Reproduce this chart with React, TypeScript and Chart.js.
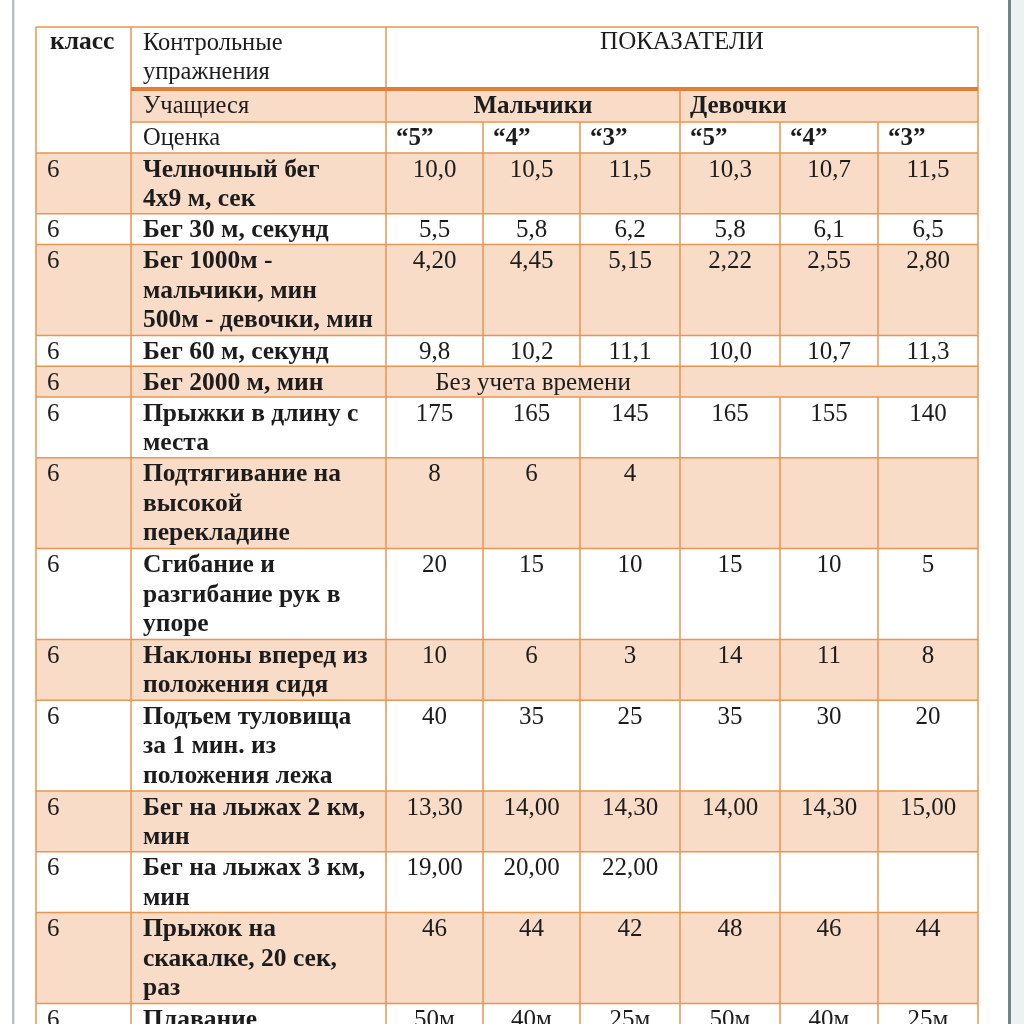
import React, { useEffect, useRef } from "react";
import { Chart, registerables } from "chart.js";

Chart.register(...registerables);

// ---------------- DATA ----------------
const headerClass = "класс";
const headerExercise = ["Контрольные", "упражнения"];
const headerIndicators = "ПОКАЗАТЕЛИ";
const headerStudents = "Учащиеся";
const headerGrade = "Оценка";
const groupLabels = ["Мальчики", "Девочки"];
const gradeLabels = ["“5”", "“4”", "“3”", "“5”", "“4”", "“3”"];

const classes = ["6", "6", "6", "6", "6", "6", "6", "6", "6", "6", "6", "6", "6", "6"];

const exercises: string[][] = [
  ["Челночный бег", "4х9 м, сек"],
  ["Бег 30 м, секунд"],
  ["Бег 1000м -", "мальчики, мин", "500м - девочки, мин"],
  ["Бег 60 м, секунд"],
  ["Бег 2000 м, мин"],
  ["Прыжки в длину с", "места"],
  ["Подтягивание на", "высокой", "перекладине"],
  ["Сгибание и", "разгибание рук в", "упоре"],
  ["Наклоны вперед из", "положения сидя"],
  ["Подъем туловища", "за 1 мин. из", "положения лежа"],
  ["Бег на лыжах 2 км,", "мин"],
  ["Бег на лыжах 3 км,", "мин"],
  ["Прыжок на", "скакалке, 20 сек,", "раз"],
  ["Плавание"],
];

const boys5 = ["10,0", "5,5", "4,20", "9,8", "", "175", "8", "20", "10", "40", "13,30", "19,00", "46", "50м"];
const boys4 = ["10,5", "5,8", "4,45", "10,2", "", "165", "6", "15", "6", "35", "14,00", "20,00", "44", "40м"];
const boys3 = ["11,5", "6,2", "5,15", "11,1", "", "145", "4", "10", "3", "25", "14,30", "22,00", "42", "25м"];
const girls5 = ["10,3", "5,8", "2,22", "10,0", "", "165", "", "15", "14", "35", "14,00", "", "48", "50м"];
const girls4 = ["10,7", "6,1", "2,55", "10,7", "", "155", "", "10", "11", "30", "14,30", "", "46", "40м"];
const girls3 = ["11,5", "6,5", "2,80", "11,3", "", "140", "", "5", "8", "20", "15,00", "", "44", "25м"];
const notes = ["", "", "", "", "Без учета времени", "", "", "", "", "", "", "", "", ""];

// ---------------- LAYOUT / STYLE ----------------
const colEdges = [36, 131, 386, 483, 580, 680, 780, 878, 978];
const headerEdges = [27, 89, 122, 153];
const lineStep = 30;
const textStep = 29.5;
const baseOff = 23.5;
const rowPad = 0.8;
const BORDER = "#E8954F";
const THICK = "#E27C36";
const SHADE = "#F9DCC8";
const TEXT = "#1c1c1c";
const FONT = "'Liberation Serif', 'Times New Roman', serif";
const SIZE_B = 25.5;
const SIZE_R = 25;

const tablePlugin = {
  id: "tablePlugin",
  afterDraw(chart: any) {
    const ctx = chart.ctx as CanvasRenderingContext2D;
    const xs = chart.scales.x;
    const ys = chart.scales.y;
    const X = (v: number) => xs.getPixelForValue(v);
    const Y = (v: number) => ys.getPixelForValue(v);

    const rowEdges: number[] = [headerEdges[3]];
    exercises.forEach((lines) => {
      const prev = rowEdges[rowEdges.length - 1];
      rowEdges.push(prev + Math.max(1, lines.length) * lineStep + rowPad);
    });
    const bottom = rowEdges[rowEdges.length - 1];
    const tableBottom = Math.max(bottom, 1060);

    ctx.save();
    ctx.fillStyle = "#ffffff";
    ctx.fillRect(X(0), Y(0), X(1024) - X(0), Y(1024) - Y(0));
    ctx.fillStyle = "#b4c0cb";
    ctx.fillRect(X(12), Y(0), X(14) - X(12), Y(1024) - Y(0));
    ctx.fillStyle = "#dfe5ea";
    ctx.fillRect(X(14), Y(0), X(15) - X(14), Y(1024) - Y(0));
    ctx.fillStyle = "#eef1f2";
    ctx.fillRect(X(1011), Y(0), X(1024) - X(1011), Y(1024) - Y(0));
    ctx.fillStyle = "#6f8588";
    ctx.fillRect(X(1008), Y(0), X(1011) - X(1008), Y(1024) - Y(0));

    ctx.fillStyle = SHADE;
    ctx.fillRect(X(colEdges[1]), Y(headerEdges[1]), X(colEdges[8]) - X(colEdges[1]), Y(headerEdges[2]) - Y(headerEdges[1]));
    exercises.forEach((_, i) => {
      if (i % 2 === 0) {
        ctx.fillRect(X(colEdges[0]), Y(rowEdges[i]), X(colEdges[8]) - X(colEdges[0]), Y(rowEdges[i + 1]) - Y(rowEdges[i]));
      }
    });

    const hLine = (x1: number, x2: number, y: number, color = BORDER, w = 1.5) => {
      ctx.strokeStyle = color;
      ctx.lineWidth = w;
      ctx.beginPath();
      ctx.moveTo(X(x1), Y(y));
      ctx.lineTo(X(x2), Y(y));
      ctx.stroke();
    };
    const vLine = (x: number, y1: number, y2: number) => {
      ctx.strokeStyle = BORDER;
      ctx.lineWidth = 1.5;
      ctx.beginPath();
      ctx.moveTo(X(x), Y(y1));
      ctx.lineTo(X(x), Y(y2));
      ctx.stroke();
    };
    const L = colEdges[0];
    const R = colEdges[8];
    hLine(L, R, headerEdges[0]);
    vLine(L, headerEdges[0], tableBottom);
    vLine(R, headerEdges[0], tableBottom);
    vLine(colEdges[1], headerEdges[0], tableBottom);
    vLine(colEdges[2], headerEdges[0], tableBottom);
    hLine(colEdges[1], R, headerEdges[2]);
    hLine(L, R, headerEdges[3]);
    vLine(colEdges[5], headerEdges[1], headerEdges[2]);
    for (let c = 3; c <= 7; c++) vLine(colEdges[c], headerEdges[2], headerEdges[3]);
    exercises.forEach((_, i) => {
      const top = rowEdges[i];
      const bot = i === exercises.length - 1 ? tableBottom : rowEdges[i + 1];
      if (notes[i]) {
        vLine(colEdges[5], top, bot);
      } else {
        for (let c = 3; c <= 7; c++) vLine(colEdges[c], top, bot);
      }
      hLine(L, R, rowEdges[i + 1]);
    });
    hLine(colEdges[1], R, headerEdges[1], THICK, 4);

    ctx.fillStyle = TEXT;
    ctx.textBaseline = "alphabetic";
    const txt = (s: string, x: number, y: number, bold: boolean, align: CanvasTextAlign = "left", size?: number) => {
      const sz = size ?? (bold ? SIZE_B : SIZE_R);
      ctx.font = `${bold ? "bold " : ""}${sz}px ${FONT}`;
      ctx.textAlign = align;
      ctx.fillText(s, X(x), Y(y));
    };
    txt(headerClass, colEdges[0] + 14, headerEdges[0] + 22, true, "left", 25.5);
    headerExercise.forEach((s, k) => txt(s, colEdges[1] + 12, headerEdges[0] + 23 + k * 29, false, "left", 24.5));
    txt(headerIndicators, (colEdges[2] + colEdges[8]) / 2, headerEdges[0] + 22, false, "center", 25);
    txt(headerStudents, colEdges[1] + 12, headerEdges[1] + 24, false, "left", 24.5);
    txt(groupLabels[0], (colEdges[2] + colEdges[5]) / 2, headerEdges[1] + 24, true, "center", 25);
    txt(groupLabels[1], colEdges[5] + 10, headerEdges[1] + 24, true, "left", 25);
    txt(headerGrade, colEdges[1] + 12, headerEdges[2] + 23, false, "left", 24.5);
    gradeLabels.forEach((s, c) => txt(s, colEdges[2 + c] + 10, headerEdges[2] + 23, true, "left", 25));

    const cols = [boys5, boys4, boys3, girls5, girls4, girls3];
    exercises.forEach((lines, i) => {
      const top = rowEdges[i];
      txt(classes[i], colEdges[0] + 11, top + baseOff, false);
      lines.forEach((s, k) => txt(s, colEdges[1] + 12, top + baseOff + k * textStep, true));
      if (notes[i]) {
        txt(notes[i], (colEdges[2] + colEdges[5]) / 2, top + baseOff, false, "center");
      } else {
        cols.forEach((arr, c) => {
          if (arr[i]) txt(arr[i], (colEdges[2 + c] + colEdges[3 + c]) / 2, top + baseOff, false, "center");
        });
      }
    });
    ctx.restore();
  },
};

export default function App() {
  const ref = useRef<HTMLCanvasElement | null>(null);
  useEffect(() => {
    if (!ref.current) return;
    const chart = new Chart(ref.current, {
      type: "scatter",
      data: { datasets: [{ data: [], showLine: false }] },
      options: {
        animation: false,
        responsive: false,
        maintainAspectRatio: false,
        devicePixelRatio: 1,
        layout: { padding: 0 },
        plugins: { legend: { display: false }, tooltip: { enabled: false }, title: { display: false } },
        scales: {
          x: { type: "linear", min: 0, max: 1024, display: false },
          y: { type: "linear", min: 0, max: 1024, reverse: true, display: false },
        },
      },
      plugins: [tablePlugin],
    });
    return () => chart.destroy();
  }, []);
  return (
    <div style={{ position: "fixed", left: 0, top: 0, width: 1024, height: 1024, background: "#fff" }}>
      <canvas ref={ref} width={1024} height={1024} style={{ width: 1024, height: 1024, display: "block" }} />
    </div>
  );
}
